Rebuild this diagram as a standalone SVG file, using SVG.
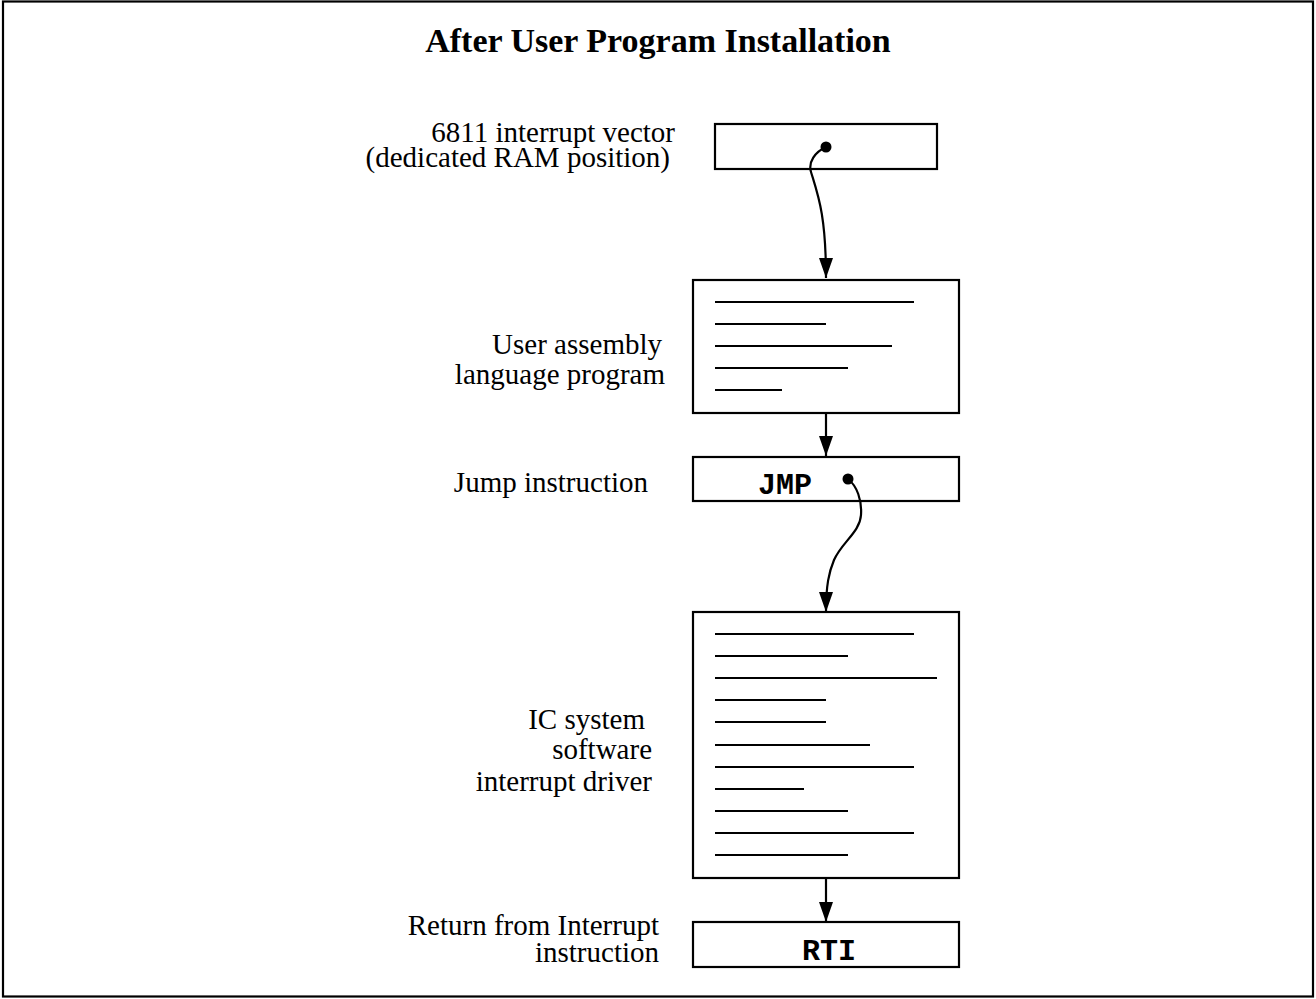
<svg xmlns="http://www.w3.org/2000/svg" width="1316" height="999" viewBox="0 0 1316 999">
<style>
.box{fill:#fff;stroke:#000;stroke-width:2.2}
.ln{stroke:#000;stroke-width:2.2}
.lbl{font-family:"Liberation Serif","Times New Roman",serif;font-size:29px;fill:#000;text-anchor:end}
.mono{font-family:"Liberation Mono","Courier New",monospace;font-size:30px;font-weight:bold;fill:#000}
.title{font-family:"Liberation Serif","Times New Roman",serif;font-size:34px;font-weight:bold;fill:#000;text-anchor:middle}
.con{fill:none;stroke:#000;stroke-width:2.2}
</style>
<defs>
<marker id="ah" markerUnits="userSpaceOnUse" markerWidth="20" markerHeight="14" refX="20" refY="7" orient="auto">
<path d="M0,0 L20,7 L0,14 z" fill="#000"/>
</marker>
</defs>
<rect x="3" y="1.5" width="1310" height="995" fill="#fff" stroke="#000" stroke-width="2.2"/>
<text class="title" x="658" y="52">After User Program Installation</text>

<g id="vector">
<rect class="box" x="715" y="124" width="222" height="45"/>
<text class="lbl" x="675" y="142">6811 interrupt vector</text>
<text class="lbl" x="670" y="167">(dedicated RAM position)</text>
</g>

<g id="userprog">
<rect class="box" x="693" y="280" width="266" height="133"/>
<line class="ln" x1="715" y1="302" x2="914" y2="302"/>
<line class="ln" x1="715" y1="324" x2="826" y2="324"/>
<line class="ln" x1="715" y1="346" x2="892" y2="346"/>
<line class="ln" x1="715" y1="368" x2="848" y2="368"/>
<line class="ln" x1="715" y1="390" x2="782" y2="390"/>
<text class="lbl" x="662" y="354">User assembly</text>
<text class="lbl" x="665" y="384">language program</text>
</g>

<g id="jmp">
<rect class="box" x="693" y="457" width="266" height="44"/>
<text class="mono" x="785" y="494" text-anchor="middle">JMP</text>
<text class="lbl" x="648" y="492">Jump instruction</text>
</g>

<g id="driver">
<rect class="box" x="693" y="612" width="266" height="266"/>
<line class="ln" x1="715" y1="634" x2="914" y2="634"/>
<line class="ln" x1="715" y1="656" x2="848" y2="656"/>
<line class="ln" x1="715" y1="678" x2="937" y2="678"/>
<line class="ln" x1="715" y1="700" x2="826" y2="700"/>
<line class="ln" x1="715" y1="722" x2="826" y2="722"/>
<line class="ln" x1="715" y1="745" x2="870" y2="745"/>
<line class="ln" x1="715" y1="767" x2="914" y2="767"/>
<line class="ln" x1="715" y1="789" x2="804" y2="789"/>
<line class="ln" x1="715" y1="811" x2="848" y2="811"/>
<line class="ln" x1="715" y1="833" x2="914" y2="833"/>
<line class="ln" x1="715" y1="855" x2="848" y2="855"/>
<text class="lbl" x="645" y="729">IC system</text>
<text class="lbl" x="652" y="759">software</text>
<text class="lbl" x="652" y="791">interrupt driver</text>
</g>

<g id="rti">
<rect class="box" x="693" y="922" width="266" height="45"/>
<text class="mono" x="829" y="960" text-anchor="middle">RTI</text>
<text class="lbl" x="659" y="935">Return from Interrupt</text>
<text class="lbl" x="659" y="962">instruction</text>
</g>

<g id="connectors">
<circle cx="826" cy="147" r="5.5" fill="#000"/>
<path class="con" d="M826,147 C815,152 808,162 811,172 C818,195 826,215 826,278" marker-end="url(#ah)"/>
<path class="con" d="M826,413 L826,456" marker-end="url(#ah)"/>
<circle cx="848" cy="479" r="5.5" fill="#000"/>
<path class="con" d="M848,479 C857,486 862,500 861,515 C860,532 842,542 834,560 C829,572 826,585 826,612" marker-end="url(#ah)"/>
<path class="con" d="M826,878 L826,922" marker-end="url(#ah)"/>
</g>
</svg>
